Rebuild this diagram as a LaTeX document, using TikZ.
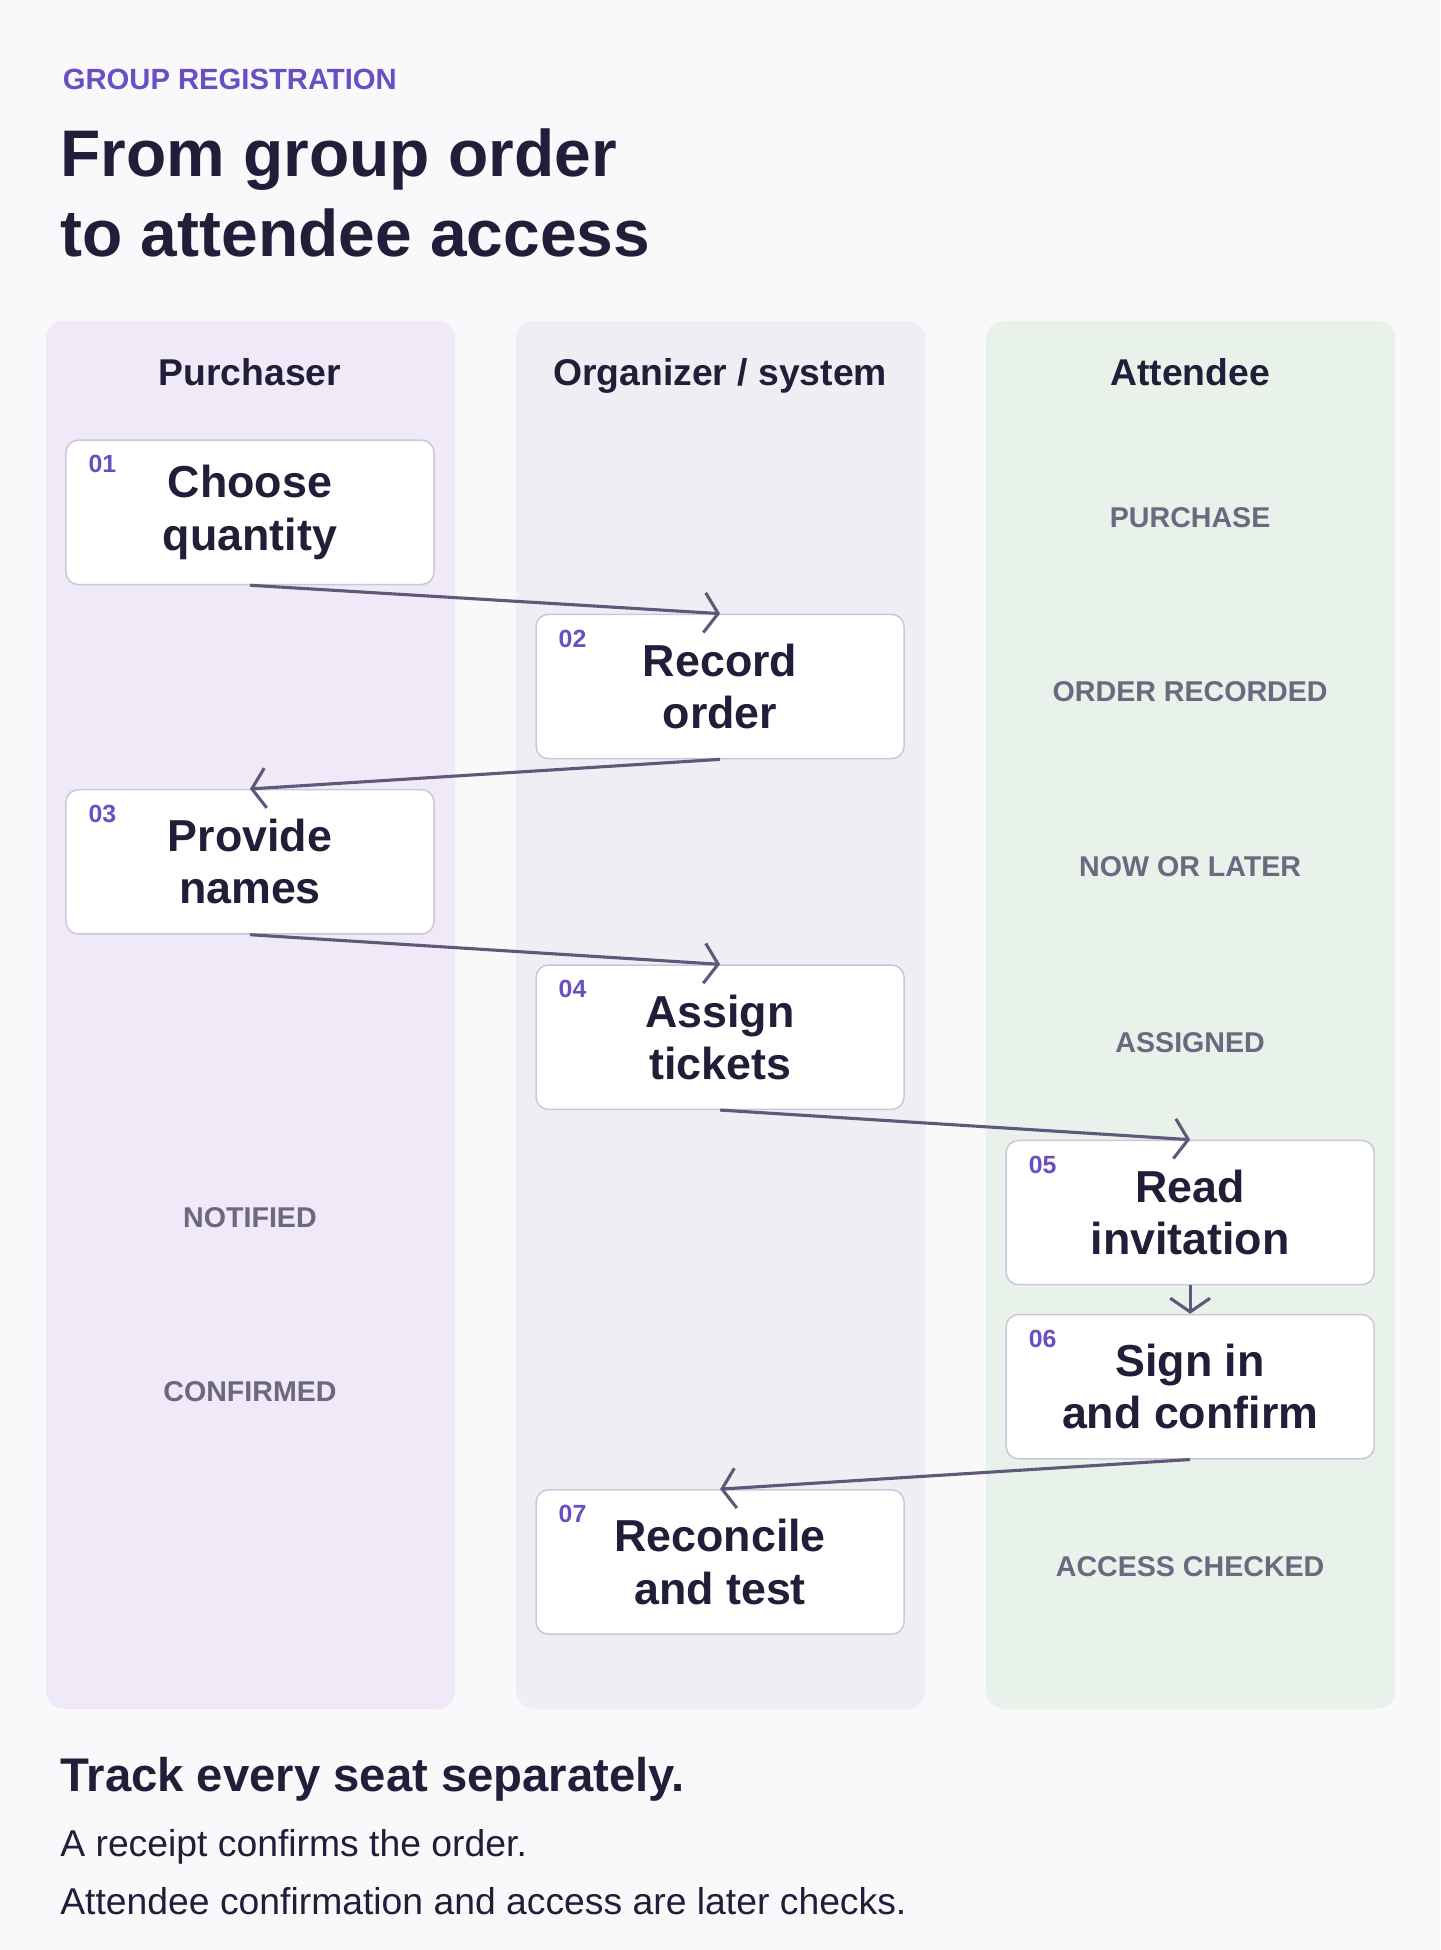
\documentclass[tikz,border=0pt]{standalone}
\usepackage{fontspec}
\setmainfont{Liberation Sans}
\usetikzlibrary{arrows.meta}
\definecolor{bg}{HTML}{F9F9FB}
\definecolor{purp}{HTML}{6A4FC2}
\definecolor{ink}{HTML}{221E3A}
\definecolor{laneA}{HTML}{F0EAF8}
\definecolor{laneB}{HTML}{EFEEF4}
\definecolor{laneC}{HTML}{E9F2EA}
\definecolor{edge}{HTML}{CBC7DA}
\definecolor{gr}{HTML}{6B6880}
\definecolor{arr}{HTML}{5F5878}
\tikzset{
 lane/.style={fill=#1,draw=none,rounded corners=14pt},
 hdr/.style={font=\fontsize{30}{34}\selectfont\bfseries,text=ink,anchor=base},
 stepbox/.style={draw=edge,line width=1.2pt,fill=white,rounded corners=10pt,minimum width=296pt,minimum height=116pt,align=center,font=\fontsize{36}{42}\selectfont\bfseries,text=ink,inner sep=0pt},
 num/.style={font=\fontsize{20}{22}\selectfont\bfseries,text=purp,anchor=center},
 stat/.style={font=\fontsize{23}{26}\selectfont\bfseries,text=gr},
 flow/.style={draw=arr,line width=2.5pt,-{Straight Barb[length=11pt,width=32pt,line width=2.5pt]}},
}
\begin{document}
\begin{tikzpicture}[x=1pt,y=-1pt]
\fill[bg] (0,0) rectangle (1158,1568);
\useasboundingbox (0,0) rectangle (1158,1568);
\node[anchor=west,text=purp,font=\fontsize{23.5}{26}\selectfont\bfseries] (kick) at (47,64) {GROUP REGISTRATION};
\node[anchor=west,text=ink,font=\fontsize{53}{64}\selectfont\bfseries,align=left] (title) at (45,155) {From group order\\to attendee access};
\fill[lane=laneA] (37,258) rectangle (366,1374);
\fill[lane=laneB] (415,258) rectangle (744,1374);
\fill[lane=laneC] (793,258) rectangle (1122,1374);
\node[hdr] (h1) at (201,310) {Purchaser};
\node[hdr] (h2) at (579,310) {Organizer / system};
\node[hdr] (h3) at (957,310) {Attendee};
\foreach \n/\x/\y/\t in {s1/201/412/{Choose\\quantity},s2/579/552/{Record\\order},s3/201/693/{Provide\\names},s4/579/834/{Assign\\tickets},s5/957/975/{Read\\invitation},s6/957/1115/{Sign in\\and confirm},s7/579/1256/{Reconcile\\and test}}
  \node[stepbox] (\n) at (\x,\y) {\t};
\foreach \n/\k in {s1/01,s2/02,s3/03,s4/04,s5/05,s6/06,s7/07}
  \node[num] (\n n) at ([xshift=30pt,yshift=-20pt]\n.north west) {\k};
\node[stat] (p1) at (957,416) {PURCHASE};
\node[stat] (p2) at (957,556) {ORDER RECORDED};
\node[stat] (p3) at (957,697) {NOW OR LATER};
\node[stat] (p4) at (957,838) {ASSIGNED};
\node[stat] (p5) at (957,1260) {ACCESS CHECKED};
\node[stat] (p6) at (201,979) {NOTIFIED};
\node[stat] (p7) at (201,1119) {CONFIRMED};
\draw[flow] (s1.south) -- (s2.north);
\draw[flow] (s2.south) -- (s3.north);
\draw[flow] (s3.south) -- (s4.north);
\draw[flow] (s4.south) -- (s5.north);
\draw[flow] (s5.south) -- (s6.north);
\draw[flow] (s6.south) -- (s7.north);
\node[anchor=west,text=ink,font=\fontsize{38}{44}\selectfont\bfseries] (f1) at (45,1431) {Track every seat separately.};
\node[anchor=west,text=ink,font=\fontsize{30}{34}\selectfont] (f2) at (45,1485) {A receipt confirms the order.};
\node[anchor=west,text=ink,font=\fontsize{30}{34}\selectfont] (f3) at (45,1529) {Attendee confirmation and access are later checks.};
\end{tikzpicture}
\end{document}
